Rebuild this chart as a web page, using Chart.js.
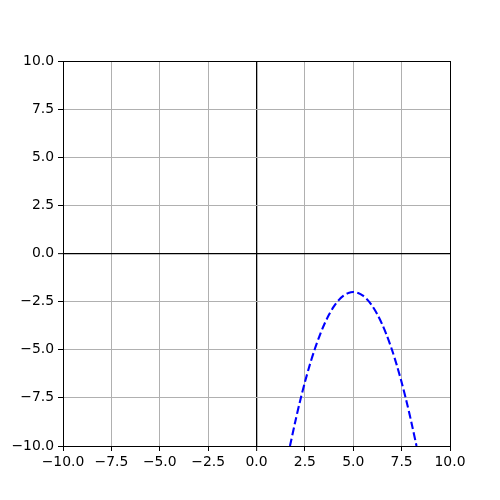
<!DOCTYPE html>
<html>
<head>
<meta charset="utf-8">
<script src="https://cdn.jsdelivr.net/npm/chart.js@4"></script>
<style>
  html, body { margin: 0; padding: 0; background: #fff; }
  canvas { display: block; }
</style>
</head>
<body>
<canvas id="grafico" width="500" height="500"></canvas>
<script>
const xs = [1.73, 2.0, 2.25, 2.5, 2.75, 3.0, 3.25, 3.5, 3.75, 4.0, 4.25, 4.5, 4.75, 5.0,
            5.25, 5.5, 5.75, 6.0, 6.25, 6.5, 6.75, 7.0, 7.25, 7.5, 7.75, 8.0, 8.27];
const ys = [-10.0, -8.75, -7.67, -6.69, -5.80, -5.0, -4.30, -3.69, -3.17, -2.75, -2.42, -2.19, -2.05, -2.0,
            -2.05, -2.19, -2.42, -2.75, -3.17, -3.69, -4.30, -5.0, -5.80, -6.69, -7.67, -8.75, -10.0];
const ticksX = [-10, -7.5, -5, -2.5, 0, 2.5, 5, 7.5, 10];
const ticksY = [-10, -7.5, -5, -2.5, 0, 2.5, 5, 7.5, 10];

const pontos = xs.map((x, i) => ({ x: x, y: ys[i] }));
const fmt = v => v.toFixed(1).replace('-', '\u2212');
const corGrade = ctx => {
  const v = ctx.tick ? ctx.tick.value : null;
  if (v === 0 || v === 10 || v === -10) return '#000000';
  return '#b0b0b0';
};
const larguraGrade = ctx => (ctx.tick && ctx.tick.value === 0) ? 1.3 : 1;
const fonte = { family: 'DejaVu Sans', size: 13.9 };

new Chart(document.getElementById('grafico'), {
  type: 'scatter',
  data: {
    datasets: [{
      data: pontos,
      showLine: true,
      borderColor: '#0000ff',
      borderWidth: 2.1,
      borderDash: [7.7, 3.3],
      pointRadius: 0,
      tension: 0.3,
      fill: false
    }]
  },
  options: {
    responsive: false,
    animation: false,
    layout: { padding: { top: 61, right: 50, left: 0, bottom: 0 } },
    plugins: { legend: { display: false }, tooltip: { enabled: false } },
    scales: {
      x: {
        type: 'linear', min: -10, max: 10,
        afterBuildTicks: s => { s.ticks = ticksX.map(v => ({ value: v })); },
        afterFit: s => { s.height = 54; },
        grid: { color: corGrade, lineWidth: larguraGrade, tickLength: 5, tickColor: '#000000', tickWidth: 1 },
        border: { color: '#000000', width: 1 },
        ticks: { color: '#000000', font: fonte, padding: 3, maxRotation: 0, callback: v => fmt(v) }
      },
      y: {
        type: 'linear', min: -10, max: 10,
        afterBuildTicks: s => { s.ticks = ticksY.map(v => ({ value: v })); },
        afterFit: s => { s.width = 63; },
        grid: { color: corGrade, lineWidth: larguraGrade, tickLength: 5, tickColor: '#000000', tickWidth: 1 },
        border: { color: '#000000', width: 1 },
        ticks: { color: '#000000', font: fonte, padding: 4, callback: v => fmt(v) }
      }
    }
  }
});
</script>
</body>
</html>
